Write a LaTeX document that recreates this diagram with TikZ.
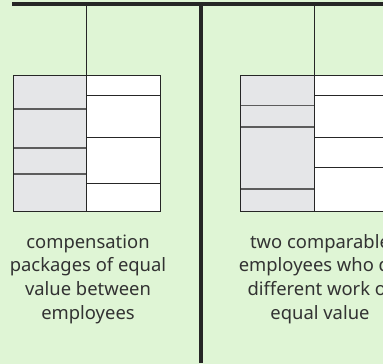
\documentclass[tikz,border=0pt]{standalone}
\usepackage{fontspec}
\setmainfont{Noto Sans}
\definecolor{bggreen}{RGB}{223,245,213}
\definecolor{cellgrey}{RGB}{229,230,232}
\definecolor{ink}{RGB}{38,38,38}
\definecolor{txtgrey}{RGB}{50,50,50}
\tikzset{
  caption/.style={text=txtgrey, align=center, inner sep=0pt,
    font=\fontsize{18.4}{23.6}\selectfont},
  rule/.style={ink, line width=1pt},
  greyrule/.style={ink!75, line width=1.2pt}
}
\begin{document}
\begin{tikzpicture}[x=1pt,y=-1pt]
  \useasboundingbox (0,0) rectangle (383,364);
  \fill[bggreen](0,0)rectangle(383,364);
  \clip(0,0)rectangle(383,364);
  % bar and centre post
  \draw[ink, line width=3.5pt](12,4.2)--(383,4.2);
  \draw[ink, line width=4pt](201,4.2)--(201,362.7);
  % left pair
  \fill[cellgrey](13,75)rectangle(86,211);
  \fill[white](86,75)rectangle(160,211);
  \foreach \y in {109,148,174}
    \draw[greyrule](13,\y)--(86,\y);
  \foreach \y in {95.5,137,183.5}
    \draw[rule](86,\y)--(160,\y);
  \draw[rule](13,75)rectangle(160,211);
  \draw[rule](86,4.2)--(86,211);
  % right pair
  \fill[cellgrey](240.3,75)rectangle(314,211);
  \fill[white](314,75)rectangle(388,211);
  \foreach \y in {105.5,127,189}
    \draw[greyrule](240.3,\y)--(314,\y);
  \foreach \y in {95.5,137,167}
    \draw[rule](314,\y)--(388,\y);
  \draw[rule](240.3,75)rectangle(388,211);
  \draw[rule](314,4.2)--(314,211);
  % captions (last line on the base anchor)
  \node[caption, anchor=base](leftcap) at (88,319)
    {compensation\\packages of equal\\value between\\employees};
  \node[caption, anchor=base](rightcap) at (320,319)
    {two comparable\\employees who do\\different work of\\equal value};
\end{tikzpicture}
\end{document}
